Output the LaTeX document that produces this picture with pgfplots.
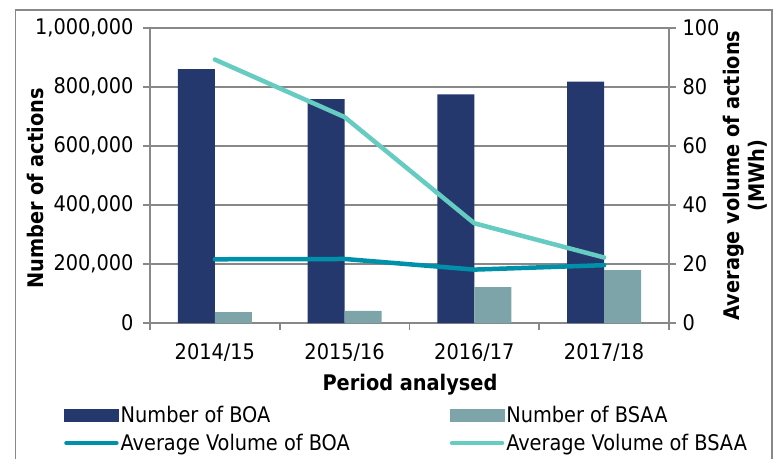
\documentclass[border=0pt]{standalone}
\usepackage{pgfplots}
\pgfplotsset{compat=1.18}
\usepackage{fontspec}
\setmainfont{DejaVu Sans Condensed}
\definecolor{boa}{HTML}{24386E}
\definecolor{bsaa}{HTML}{7CA4A9}
\definecolor{lboa}{HTML}{0091AA}
\definecolor{lbsaa}{HTML}{66CBC1}
\definecolor{gridc}{HTML}{888888}
\newcommand{\tfont}{\fontsize{21.5}{25}\selectfont}
\begin{document}
\begin{tikzpicture}[x=1pt,y=1pt,font=\tfont]
\useasboundingbox (0,0) rectangle (774,458);
\draw[gridc, line width=1.5pt] (15.5,-10) rectangle (772,448);
\begin{axis}[
  at={(150pt,135pt)}, anchor=south west,
  scale only axis, width=519pt, height=295pt,
  xmin=-0.5, xmax=3.5, ymin=0, ymax=1000000,
  axis x line=bottom, axis y line=left,
  axis line style={gridc, line width=1.5pt, -},
  ymajorgrids, grid style={gridc, line width=1.5pt},
  xtick={0,1,2,3},
  xticklabels={2014/15,2015/16,2016/17,2017/18},
  minor xtick={-0.5,0.5,1.5,2.5,3.5},
  major x tick style={draw=none},
  minor x tick style={gridc, line width=1.5pt},
  ytick={0,200000,400000,600000,800000,1000000},
  ytick style={gridc, line width=1.5pt},
  tick align=outside,
  major tick length=7pt, minor tick length=7pt,
  scaled y ticks=false,
  /pgf/number format/.cd, fixed, 1000 sep={,}, assume math mode=true,
  /pgfplots/.cd,
  tick label style={font=\tfont, black},
  xticklabel style={yshift=-10pt},
  yticklabel style={xshift=-6pt},
  ybar=0pt, bar width=37pt,
  ylabel={\textbf{Number of actions}},
  ylabel style={at={(axis description cs:-0.2197,0.456)}, anchor=center},
  xlabel={\textbf{Period analysed}},
  xlabel style={at={(axis description cs:0.501,-0.21)}, anchor=center},
]
\addplot[fill=boa, draw=none] coordinates {(0,861000) (1,759000) (2,775000) (3,818000)};
\addplot[fill=bsaa, draw=none] coordinates {(0,37000) (1,41000) (2,122000) (3,179000)};
\end{axis}
\begin{axis}[
  at={(150pt,135pt)}, anchor=south west,
  scale only axis, width=519pt, height=295pt,
  xmin=-0.5, xmax=3.5, ymin=0, ymax=100,
  axis x line=none, axis y line=right,
  axis line style={gridc, line width=1.5pt, -},
  ytick={0,20,40,60,80,100},
  ytick style={gridc, line width=1.5pt},
  tick align=outside, major tick length=7pt,
  /pgf/number format/assume math mode=true,
  tick label style={font=\tfont, black},
  yticklabel style={xshift=3pt},
  ylabel={\textbf{Average volume of actions}\\\textbf{(MWh)}},
  ylabel style={at={(axis description cs:1.1464,0.5)}, anchor=center, align=center},
  legend columns=2,
  legend cell align=left,
  legend style={at={(axis description cs:-0.1715,-0.268)}, anchor=north west,
    draw=none, fill=none, font=\tfont, row sep=6pt,
    /tikz/every even column/.append style={column sep=98pt}},
]
\addplot[lboa, line width=4.5pt, line join=round, line cap=round, forget plot] coordinates {(0,21.6) (1,21.7) (2,18.1) (3,19.6)};
\addplot[lbsaa, line width=4.5pt, line join=round, line cap=round, forget plot] coordinates {(0,89.3) (1,69.8) (2,33.8) (3,22.2)};
\addlegendimage{legend image code/.code={\fill[boa] (0pt,-6pt) rectangle (54pt,6pt);}}
\addlegendentry{Number of BOA}
\addlegendimage{legend image code/.code={\fill[bsaa] (0pt,-6pt) rectangle (54pt,6pt);}}
\addlegendentry{Number of BSAA}
\addlegendimage{legend image code/.code={\draw[lboa, line width=4.5pt, line cap=round] (2pt,0pt) -- (52pt,0pt);}}
\addlegendentry{Average Volume of BOA}
\addlegendimage{legend image code/.code={\draw[lbsaa, line width=4.5pt, line cap=round] (2pt,0pt) -- (52pt,0pt);}}
\addlegendentry{Average Volume of BSAA}
\end{axis}
\end{tikzpicture}
\end{document}
